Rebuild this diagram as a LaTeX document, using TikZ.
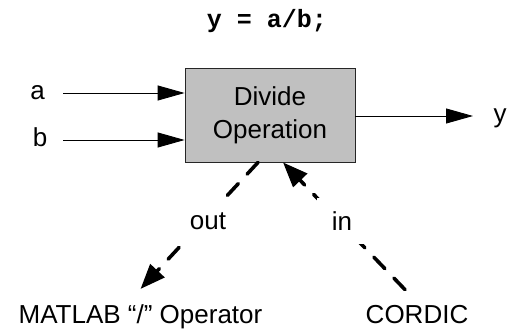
\documentclass[tikz,border=0pt]{standalone}
\usepackage{fontspec}
\setmainfont{Liberation Sans}
\newfontfamily\codefont{Liberation Mono}
\usetikzlibrary{arrows.meta}
\definecolor{boxgray}{RGB}{192,192,192}
\tikzset{
  lbl/.style={font=\fontsize{26}{33}\selectfont, inner sep=2pt},
  opbox/.style={draw=black!85, line width=0.8pt, fill=boxgray, minimum width=170pt, minimum height=94pt, align=center, inner sep=0pt, font=\fontsize{26}{33}\selectfont},
  sig/.style={line width=0.9pt, -{Triangle[length=27pt,width=15pt]}},
  impl/.style={line width=3.6pt, line cap=round, dash pattern=on 16pt off 13pt, -{Triangle[length=25pt,width=19pt]}},
  gaplbl/.style={font=\fontsize{26}{33}\selectfont, fill=white, minimum width=50pt, minimum height=45pt, inner sep=0pt},
}
\begin{document}
\begin{tikzpicture}[x=1pt,y=-1pt]
\useasboundingbox (0,0) rectangle (511,331);
\node[font=\codefont\bfseries\fontsize{25}{30}\selectfont, anchor=base, inner sep=0pt] (title) at (267,28) {y = a/b;};
\node[opbox] (box) at (270,115) {Divide\\Operation};
\node[lbl, anchor=base] (a) at (37.5,100) {a};
\node[lbl, anchor=base] (b) at (40,147) {b};
\node[lbl, anchor=base] (y) at (500,123) {y};
\coordinate (ain) at (63,93);
\coordinate (bin) at (63,140);
\coordinate (yout) at (473,116);
\draw[sig] (ain) -- (ain -| box.west);
\draw[sig] (bin) -- (bin -| box.west);
\draw[sig] (yout -| box.east) -- (yout);
\node[lbl, anchor=base] (matlab) at (140.5,323) {MATLAB “/” Operator};
\node[lbl, anchor=base] (cordic) at (417,323) {CORDIC};
\coordinate (mtip) at ([yshift=13pt]matlab.north);
\coordinate (cstart) at ([xshift=-12pt,yshift=13pt]cordic.north);
\draw[impl] ([xshift=-12pt]box.south) -- (mtip);
\draw[impl] (cstart) -- ([xshift=13pt]box.south);
\node[gaplbl] (out) at (208,221) {out};
\node[gaplbl] (in) at (342,221) {in};
\end{tikzpicture}
\end{document}
